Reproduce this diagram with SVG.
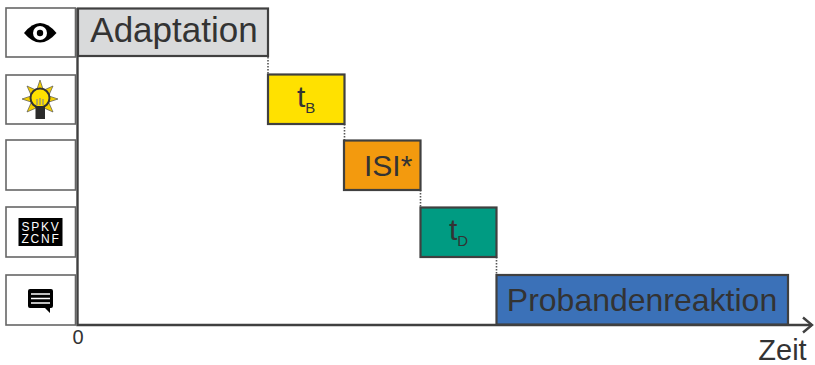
<svg xmlns="http://www.w3.org/2000/svg" width="815" height="365" viewBox="0 0 815 365">
<style>
text{font-family:"Liberation Sans",Arial,sans-serif;fill:#333}
.box{fill:#fff;stroke:#666;stroke-width:1.6}
.ph{stroke:#404040;stroke-width:2.2}
.dot{stroke:#555;stroke-width:1.6;stroke-dasharray:1.5 1.5;fill:none}
.axis{stroke:#404040;stroke-width:2.4;fill:none}
.mask{fill:#fff;font-size:12px;letter-spacing:1.8px;text-anchor:middle}
</style>
<rect width="815" height="365" fill="#fff"/>
<g id="connectors">
<path class="axis" d="M77.500 8V325H812"/>
<path class="axis" d="M803 317.500L812 325L803 332.500"/>
<path class="dot" d="M268 57V74M344.500 124V140M420.500 190V207M496.500 257V275"/>
</g>
<g id="icon-eye">
<rect class="box" x="6" y="8" width="69.500" height="49"/>
<path d="M24 33Q40 13 56.500 33Q40 52 24 33Z" fill="#000"/>
<circle cx="40" cy="33" r="7" fill="#fff"/>
<circle cx="40" cy="33" r="3.200" fill="#000"/>
</g>
<g id="icon-bulb">
<rect class="box" x="6" y="75" width="69.500" height="49"/>
<path d="M40 80L43 89H37ZM58 99L49 102V96ZM22 99L31 96V102ZM27 86L36 90L31 95ZM53 86L49 95L44 90ZM27 112L31 103L36 108ZM53 112L44 108L49 103Z" fill="#f4d000" stroke="#555" stroke-width=".7"/>
<circle cx="40" cy="98" r="9.500" fill="#ffe100" stroke="#333" stroke-width="2"/>
<rect x="35.500" y="106" width="9.500" height="13" fill="#2b2b2b"/>
<path d="M37 105V99M40 105V98M43 105V99" stroke="#888" stroke-width="1.200"/>
</g>
<g id="icon-blank">
<rect class="box" x="6" y="140" width="69.500" height="50"/>
</g>
<g id="icon-mask">
<rect class="box" x="6" y="207" width="69.500" height="50"/>
<rect x="18.500" y="218" width="44" height="28" fill="#000"/>
<text class="mask" x="41" y="230.500">SPKV</text>
<text class="mask" x="41" y="243">ZCNF</text>
</g>
<g id="icon-speech">
<rect class="box" x="6" y="275" width="69.500" height="50"/>
<path d="M30 289H51Q53 289 53 291V306Q53 308 51 308H50V313L45 308H30Q28 308 28 306V291Q28 289 30 289Z" fill="#000"/>
<path d="M31 294H50M31 298.500H50M31 303H50" stroke="#fff" stroke-width="1.300"/>
</g>
<g id="adaptation">
<rect class="ph" x="78" y="8.500" width="190" height="47.500" fill="#d9dadb"/>
<text x="174" y="41.500" text-anchor="middle" font-size="35">Adaptation</text>
</g>
<g id="tb">
<rect class="ph" x="268" y="74.500" width="76.500" height="49.500" fill="#ffe100"/>
<text x="297" y="107" font-size="30">t<tspan font-size="15" dy="6">B</tspan></text>
</g>
<g id="isi">
<rect class="ph" x="344" y="140.500" width="76.500" height="49.500" fill="#f39a0e"/>
<text x="364" y="176" font-size="30">ISI*</text>
</g>
<g id="td">
<rect class="ph" x="420.500" y="207.500" width="76" height="49.500" fill="#009b82"/>
<text x="449" y="240" font-size="30">t<tspan font-size="15" dy="6">D</tspan></text>
</g>
<g id="reaktion">
<rect class="ph" x="496.500" y="275" width="291.500" height="49.500" fill="#3b71b8"/>
<text x="642" y="311" text-anchor="middle" font-size="32">Probandenreaktion</text>
</g>
<g id="axis-labels">
<text x="78" y="344" text-anchor="middle" font-size="20">0</text>
<text x="782.500" y="360" text-anchor="middle" font-size="29">Zeit</text>
</g>
</svg>
